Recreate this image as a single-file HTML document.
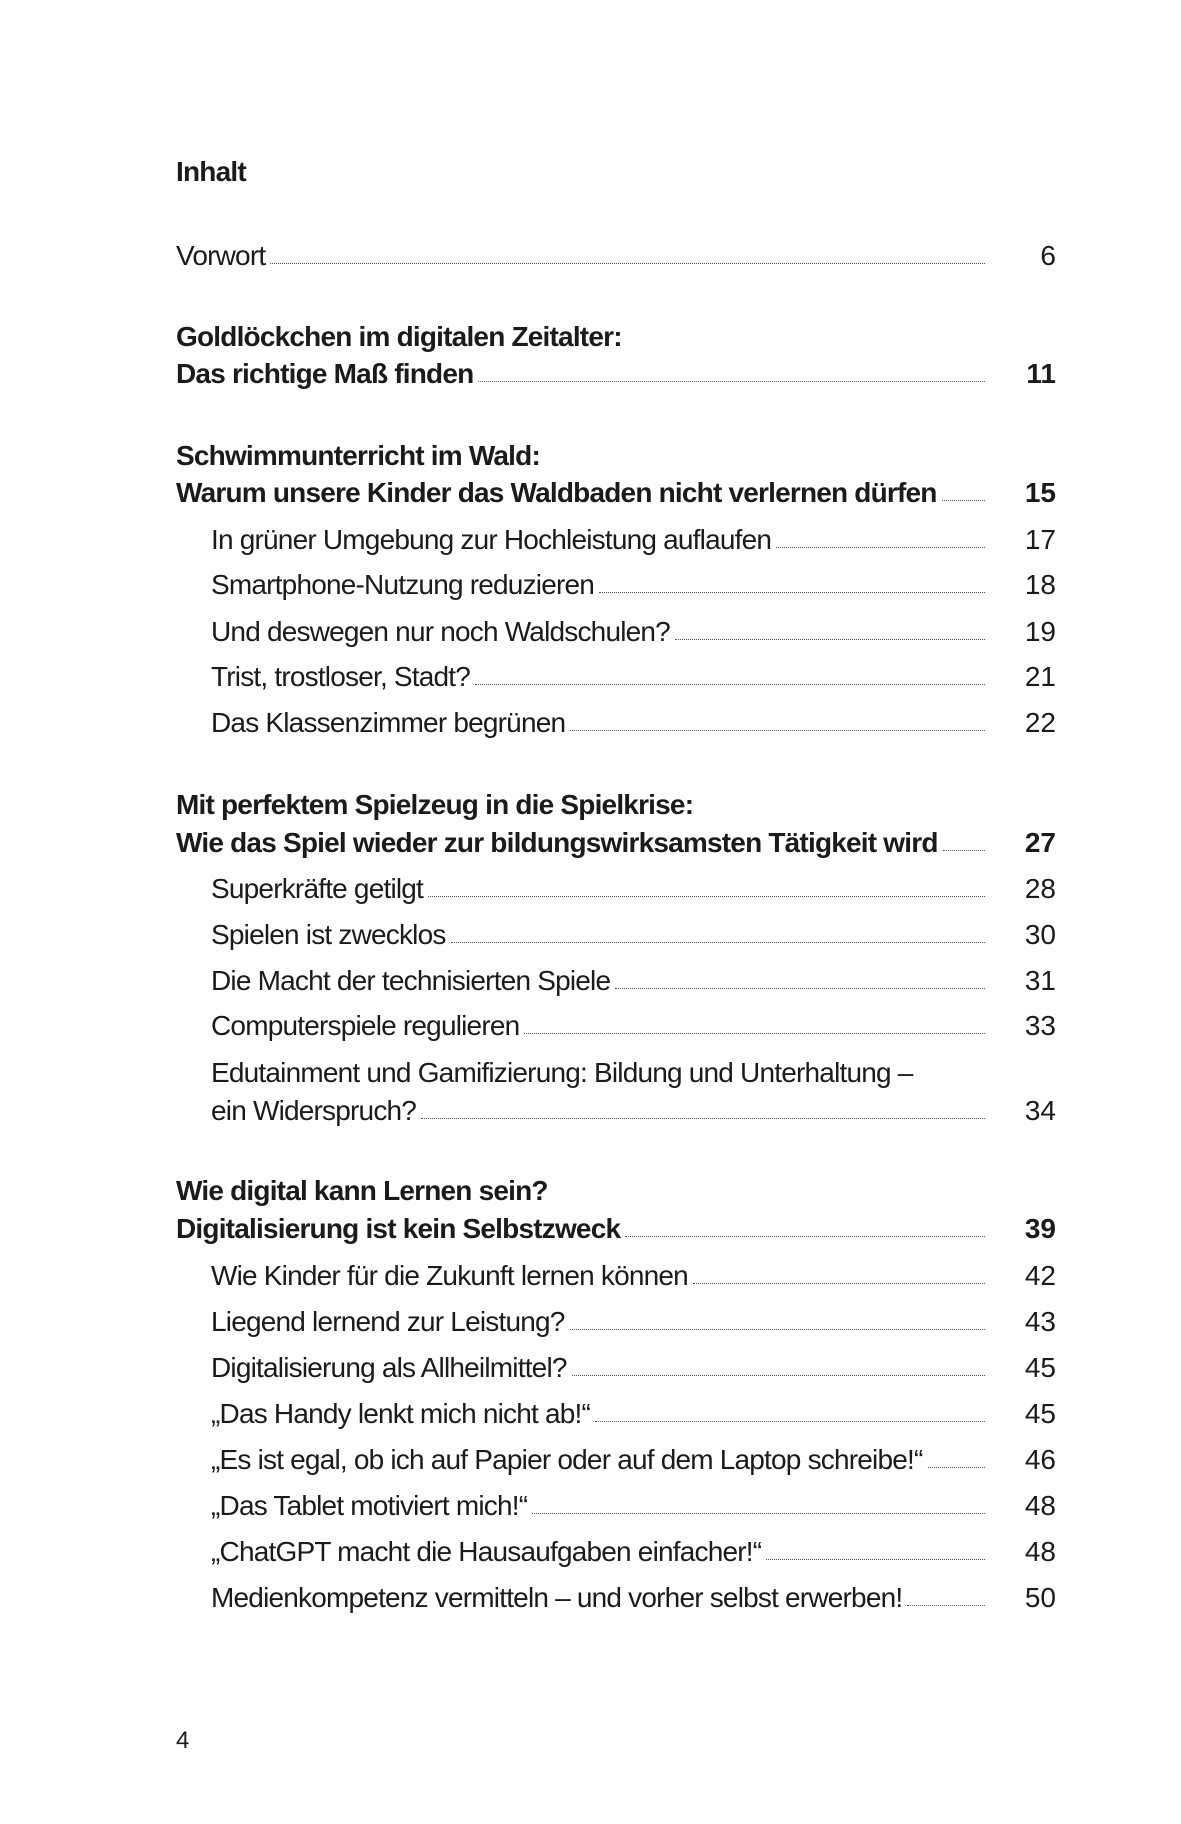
<!DOCTYPE html>
<html><head><meta charset="utf-8">
<style>
html,body{margin:0;padding:0;background:#fff;}
body{width:1181px;height:1824px;position:relative;overflow:hidden;font-family:"Liberation Sans Narrow","Liberation Sans",sans-serif;color:#1b1b1b;}
.row{position:absolute;left:176px;width:880px;height:34px;display:flex;align-items:flex-end;font-size:28px;letter-spacing:-0.8px;line-height:34px;white-space:nowrap;}
.row.sub{left:211px;width:845px;}
.row .t{flex:0 0 auto;}
.row .lead{flex:1 1 auto;margin:0 11px 9px 5px;border-bottom:1.5px dotted #555;height:0;}
.row .n{flex:0 0 60px;text-align:right;letter-spacing:0;}
.b{font-weight:bold;}
.plain{position:absolute;left:176px;font-size:28px;letter-spacing:-0.8px;line-height:34px;white-space:nowrap;}
</style></head>
<body>
<div class="plain b" style="top:155px">Inhalt</div>

<div class="row" style="top:239px"><span class="t">Vorwort</span><span class="lead"></span><span class="n">6</span></div>

<div class="plain b" style="top:320px">Goldlöckchen im digitalen Zeitalter:</div>
<div class="row b" style="top:357px"><span class="t">Das richtige Maß finden</span><span class="lead"></span><span class="n">11</span></div>

<div class="plain b" style="top:439px">Schwimmunterricht im Wald:</div>
<div class="row b" style="top:476px"><span class="t">Warum unsere Kinder das Waldbaden nicht verlernen dürfen</span><span class="lead"></span><span class="n">15</span></div>
<div class="row sub" style="top:523px"><span class="t">In grüner Umgebung zur Hochleistung auflaufen</span><span class="lead"></span><span class="n">17</span></div>
<div class="row sub" style="top:568px"><span class="t">Smartphone-Nutzung reduzieren</span><span class="lead"></span><span class="n">18</span></div>
<div class="row sub" style="top:615px"><span class="t">Und deswegen nur noch Waldschulen?</span><span class="lead"></span><span class="n">19</span></div>
<div class="row sub" style="top:660px"><span class="t">Trist, trostloser, Stadt?</span><span class="lead"></span><span class="n">21</span></div>
<div class="row sub" style="top:706px"><span class="t">Das Klassenzimmer begrünen</span><span class="lead"></span><span class="n">22</span></div>

<div class="plain b" style="top:788px">Mit perfektem Spielzeug in die Spielkrise:</div>
<div class="row b" style="top:826px"><span class="t">Wie das Spiel wieder zur bildungswirksamsten Tätigkeit wird</span><span class="lead"></span><span class="n">27</span></div>
<div class="row sub" style="top:872px"><span class="t">Superkräfte getilgt</span><span class="lead"></span><span class="n">28</span></div>
<div class="row sub" style="top:918px"><span class="t">Spielen ist zwecklos</span><span class="lead"></span><span class="n">30</span></div>
<div class="row sub" style="top:964px"><span class="t">Die Macht der technisierten Spiele</span><span class="lead"></span><span class="n">31</span></div>
<div class="row sub" style="top:1009px"><span class="t">Computerspiele regulieren</span><span class="lead"></span><span class="n">33</span></div>
<div class="plain" style="top:1056px;left:211px">Edutainment und Gamifizierung: Bildung und Unterhaltung –</div>
<div class="row sub" style="top:1094px"><span class="t">ein Widerspruch?</span><span class="lead"></span><span class="n">34</span></div>

<div class="plain b" style="top:1174px">Wie digital kann Lernen sein?</div>
<div class="row b" style="top:1212px"><span class="t">Digitalisierung ist kein Selbstzweck</span><span class="lead"></span><span class="n">39</span></div>
<div class="row sub" style="top:1259px"><span class="t">Wie Kinder für die Zukunft lernen können</span><span class="lead"></span><span class="n">42</span></div>
<div class="row sub" style="top:1305px"><span class="t">Liegend lernend zur Leistung?</span><span class="lead"></span><span class="n">43</span></div>
<div class="row sub" style="top:1351px"><span class="t">Digitalisierung als Allheilmittel?</span><span class="lead"></span><span class="n">45</span></div>
<div class="row sub" style="top:1397px"><span class="t">„Das Handy lenkt mich nicht ab!“</span><span class="lead"></span><span class="n">45</span></div>
<div class="row sub" style="top:1443px"><span class="t">„Es ist egal, ob ich auf Papier oder auf dem Laptop schreibe!“</span><span class="lead"></span><span class="n">46</span></div>
<div class="row sub" style="top:1489px"><span class="t">„Das Tablet motiviert mich!“</span><span class="lead"></span><span class="n">48</span></div>
<div class="row sub" style="top:1535px"><span class="t">„ChatGPT macht die Hausaufgaben einfacher!“</span><span class="lead"></span><span class="n">48</span></div>
<div class="row sub" style="top:1581px"><span class="t">Medienkompetenz vermitteln – und vorher selbst erwerben!</span><span class="lead"></span><span class="n">50</span></div>

<div class="plain" style="top:1724px;font-size:24px">4</div>
</body></html>
